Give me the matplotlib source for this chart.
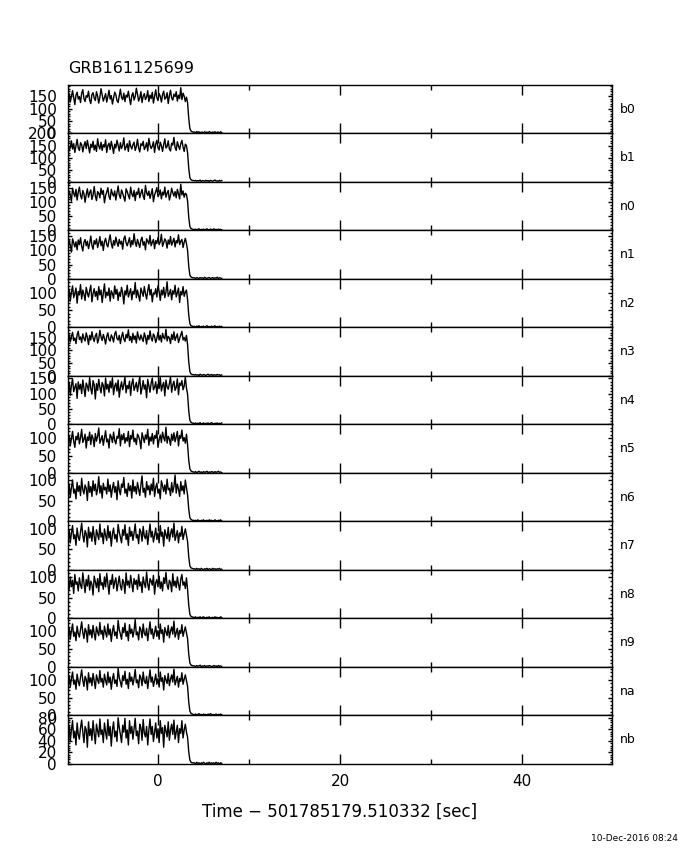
import numpy as np
import matplotlib
matplotlib.use('Agg')
import matplotlib.pyplot as plt
from matplotlib.ticker import MultipleLocator

# light curve bins: start time and bin width (sec, relative to trigger)
t_start = -9.85
bin_width = 0.125

detectors = ['b0', 'b1', 'n0', 'n1', 'n2', 'n3', 'n4', 'n5',
             'n6', 'n7', 'n8', 'n9', 'na', 'nb']
y_top = [196, 200, 172, 168, 140, 190, 158, 140, 118, 118, 118, 133, 135, 84]
y_step = [50, 50, 50, 50, 50, 50, 50, 50, 50, 50, 50, 50, 50, 20]

# counts per bin (pre-burst plateau, drop, tail)
b0 = [135,161,127,151,173,145,117,155,167,139,149,125,163,177,141,129,153,147,171,135,
      121,157,165,143,133,169,151,123,147,181,155,131,145,161,127,149,175,139,153,119,
      143,167,157,133,125,151,179,145,137,163,129,155,147,171,141,117,153,165,135,149,
      183,159,131,143,169,125,151,161,137,147,173,129,155,141,167,123,149,177,145,133,
      161,151,127,157,171,139,145,165,121,153,175,143,135,159,149,169,131,155,141,185,
      137,163,151,129,147,
      124,61,20,10,7,6,
      6,3,8,4,7,2,6,5,3,7,4,6,2,8,5,3,6,4,7,3,5,6,2,7,4]
b1 = [152,128,144,170,136,158,122,148,176,140,130,162,154,124,150,166,138,172,146,120,
      156,142,168,132,152,126,178,148,136,164,130,154,144,174,122,150,160,134,168,146,
      118,156,140,172,152,128,162,138,150,182,132,144,158,126,170,148,136,154,164,130,
      146,176,140,124,158,150,168,134,144,162,128,180,152,138,148,166,122,156,172,142,
      132,164,150,126,154,178,140,146,170,136,128,160,152,184,142,130,166,148,134,158,
      172,144,126,156,150,
      120,57,18,9,7,6,
      5,7,3,6,4,8,2,6,5,3,7,4,6,2,7,5,3,6,8,4,5,3,7,4,6]
n0 = [114,140,126,104,150,132,120,146,108,136,154,124,112,142,130,100,128,148,118,134,
      144,110,126,156,122,106,138,132,116,150,128,142,98,124,136,152,120,110,146,130,
      122,140,108,134,158,126,114,144,132,118,104,148,138,124,112,154,130,120,142,106,
      136,128,150,116,132,146,122,110,160,134,124,140,114,130,148,102,126,138,152,120,
      128,144,112,136,126,154,118,132,142,108,124,150,134,122,138,116,146,130,112,164,
      126,140,118,132,128,
      104,47,14,7,5,4,
      3,5,2,4,6,2,4,3,5,2,4,6,3,2,5,4,2,6,3,4,2,5,3,4,2]
n1 = [107,133,117,93,139,125,111,129,101,135,119,143,113,97,127,137,115,131,105,123,
      149,117,103,133,121,139,109,125,147,115,131,99,129,141,119,111,135,153,123,107,
      133,117,145,127,113,137,121,131,103,139,149,125,115,129,143,111,133,119,157,127,
      113,137,123,109,135,145,117,129,101,139,131,121,151,115,127,137,105,133,123,143,
      119,129,155,113,125,139,131,107,135,121,147,117,129,141,111,133,125,153,119,131,
      137,109,127,141,123,
      99,44,13,7,5,4,
      4,2,5,3,2,5,3,4,2,6,3,2,4,5,2,3,5,2,4,3,6,2,4,3,2]
n2 = [92,110,76,102,120,86,98,114,70,104,94,124,82,108,96,78,116,100,88,106,
      122,74,98,112,90,104,80,118,94,108,72,100,126,86,102,92,114,76,106,98,
      84,120,96,110,78,102,90,116,100,68,106,94,122,88,100,112,80,104,96,130,
      86,108,92,76,114,102,90,118,98,82,106,124,94,110,74,100,96,112,88,120,
      104,78,108,94,116,86,102,132,90,98,110,80,106,96,122,88,100,114,72,104,
      94,118,90,102,108,
      80,36,11,5,4,3,
      3,1,4,2,5,1,3,2,4,1,3,5,2,3,1,4,2,3,5,1,3,2,4,2,3]
n3 = [145,163,133,155,171,139,149,127,161,175,143,153,131,165,147,137,169,151,123,159,
      141,173,149,135,157,167,129,145,179,153,139,163,147,125,155,169,143,137,161,151,
      133,165,175,147,141,159,127,153,171,145,135,163,149,181,139,155,131,167,143,157,
      129,173,151,141,161,147,135,169,153,125,159,143,177,149,137,165,155,131,147,171,
      141,159,133,167,151,145,183,137,155,149,127,163,143,173,139,153,165,131,147,161,
      175,141,151,137,159,
      122,56,17,8,6,5,
      4,6,3,5,2,7,4,3,6,4,2,5,7,3,4,6,2,5,4,3,6,4,5,2,4]
n4 = [113,137,95,127,149,107,121,133,85,139,115,131,101,145,119,91,135,125,109,153,
      117,99,143,129,83,133,111,147,121,103,137,127,93,151,115,131,105,141,119,152,
      97,125,135,109,145,89,121,139,113,129,155,103,127,117,141,95,133,149,111,123,
      137,107,131,156,99,119,143,115,129,87,147,125,105,135,151,113,121,139,101,131,
      117,153,109,127,137,93,145,123,115,133,154,105,129,141,111,121,149,97,135,127,
      143,113,125,155,119,
      98,45,14,7,5,4,
      3,5,2,4,3,6,2,3,5,2,4,3,5,2,4,6,3,2,4,3,5,2,4,3,5]
n5 = [90,108,78,100,120,92,74,106,96,116,84,102,126,88,98,112,72,104,94,118,
      82,110,100,76,114,92,106,130,86,96,108,80,102,122,90,98,72,112,104,88,
      118,94,84,106,100,128,78,110,96,114,86,102,92,120,76,108,98,124,90,100,
      82,112,106,94,70,116,102,88,110,98,126,80,104,92,114,84,108,100,122,74,
      96,110,88,118,102,92,132,86,106,98,80,112,94,116,90,104,120,78,108,100,
      124,92,102,86,112,
      81,37,12,6,4,3,
      2,4,1,3,5,2,3,1,4,2,3,5,1,3,2,4,3,1,4,2,3,5,2,3,1]
n6 = [75,91,59,83,101,69,79,55,95,73,87,63,105,77,67,89,81,51,97,71,
      85,61,99,75,91,65,79,109,69,87,57,93,77,83,67,103,73,89,59,81,
      95,71,85,53,99,77,65,91,83,107,69,79,61,93,75,87,57,101,73,85,
      67,95,79,63,89,111,71,81,59,97,77,87,65,91,75,105,61,83,93,69,
      79,55,99,87,73,89,67,103,77,81,63,95,71,85,113,69,91,79,61,97,
      75,87,67,101,83,
      64,30,9,5,3,3,
      2,3,1,4,2,1,3,2,4,1,2,3,1,4,2,3,1,2,4,2,1,3,2,4,1]
n7 = [82,98,66,90,108,76,86,60,102,80,72,94,114,84,68,96,88,56,104,78,
      92,70,106,82,62,98,86,74,112,80,90,64,100,84,72,108,78,94,58,88,
      102,76,86,68,111,92,80,66,98,84,110,74,88,60,104,82,94,72,90,112,
      78,86,64,100,92,70,106,82,76,96,62,88,112,80,94,68,84,102,74,90,
      66,108,82,92,58,98,86,76,104,70,88,100,80,114,72,84,96,66,90,82,
      106,74,88,100,84,
      69,32,10,5,4,3,
      3,1,4,2,3,1,4,2,1,3,2,4,1,3,2,1,4,2,3,1,3,2,4,1,2]
n8 = [85,71,101,77,93,61,107,83,89,67,99,81,73,111,87,63,95,79,105,69,
      91,83,57,103,89,75,97,65,109,81,87,71,101,77,110,85,59,93,83,107,
      73,89,99,67,85,103,79,69,95,87,61,111,81,91,75,105,85,65,97,83,
      93,71,107,79,89,63,101,85,75,113,83,69,97,91,81,105,59,87,95,77,
      103,73,89,67,99,85,112,81,71,93,87,65,109,79,91,75,101,83,69,95,
      107,81,89,73,99,
      70,32,10,5,4,3,
      2,4,1,3,2,4,1,3,4,2,1,3,2,4,1,2,3,1,4,2,3,1,2,4,2]
n9 = [90,108,76,100,118,84,96,72,112,92,82,104,124,94,78,106,98,68,116,88,
      102,80,114,92,74,110,96,86,122,90,100,76,112,94,82,118,88,104,70,98,
      114,86,96,78,128,102,90,76,108,94,120,84,98,72,116,92,104,82,100,130,
      88,96,74,110,102,80,118,92,86,106,72,98,124,90,104,78,94,112,84,100,
      76,118,92,102,68,108,96,86,114,80,98,110,90,126,82,94,106,76,100,92,
      116,84,98,110,94,
      77,35,11,5,4,3,
      3,1,4,2,3,5,1,3,2,4,1,3,2,4,3,1,2,4,2,3,1,4,2,3,1]
na = [93,111,79,103,121,87,99,73,115,95,83,107,127,97,81,109,101,71,119,91,
      105,83,117,95,75,113,99,89,125,93,103,79,115,97,85,121,91,107,73,101,
      117,89,99,81,131,105,93,79,111,97,123,87,101,75,119,95,107,85,103,128,
      91,99,77,113,105,83,121,95,89,109,75,101,127,93,107,81,97,115,87,103,
      79,121,95,105,71,111,99,89,117,83,101,113,93,129,85,97,109,79,103,95,
      119,87,101,113,97,
      81,37,12,6,4,3,
      2,4,1,3,5,2,3,1,4,2,3,1,4,2,5,3,1,3,2,4,1,3,2,4,2]
nb = [53,67,39,59,75,45,57,33,71,51,43,63,76,55,37,65,59,29,73,49,
      61,41,75,53,35,69,57,47,78,51,59,37,71,55,43,77,49,65,31,59,
      73,47,57,39,80,63,51,37,67,55,79,45,59,33,75,53,65,43,61,79,
      49,57,35,69,63,41,77,53,47,65,33,59,78,51,65,39,55,71,45,61,
      37,75,53,63,29,67,57,47,73,41,59,69,51,76,43,55,67,37,61,53,
      75,45,59,69,55,
      46,21,7,3,2,2,
      2,0,3,1,2,0,2,1,3,1,0,2,1,3,0,2,1,2,0,3,1,2,0,2,1]

series = [b0, b1, n0, n1, n2, n3, n4, n5, n6, n7, n8, n9, na, nb]

fig = plt.figure(figsize=(6.8, 8.5), dpi=100)
left, right, bottom, top = 0.1, 0.9, 0.1012, 0.9
h = (top - bottom) / len(detectors)

for i, name in enumerate(detectors):
    ax = fig.add_axes([left, top - (i + 1) * h, right - left, h])
    counts = np.array(series[i])
    t = t_start + bin_width * np.arange(len(counts))
    ax.plot(t, counts, color='k', lw=1.0)
    ax.set_xlim(-9.85, 49.85)
    ax.set_ylim(0, y_top[i])
    ax.yaxis.set_major_locator(MultipleLocator(y_step[i]))
    ax.yaxis.set_minor_locator(MultipleLocator(y_step[i] / 5))
    ax.xaxis.set_major_locator(MultipleLocator(20))
    ax.xaxis.set_minor_locator(MultipleLocator(10))
    ax.tick_params(axis='both', which='both', direction='in', top=True, right=True,
                   width=1, labelsize=11)
    ax.tick_params(axis='x', which='major', length=7)
    ax.tick_params(axis='x', which='minor', length=3.5)
    ax.tick_params(axis='y', which='major', length=3, pad=8)
    ax.tick_params(axis='y', which='minor', length=1.6)
    for s in ax.spines.values():
        s.set_linewidth(1)
    if i < len(detectors) - 1:
        ax.tick_params(axis='x', labelbottom=False)
    else:
        ax.tick_params(axis='x', pad=7)
    ax.text(1.015, 0.5, name, transform=ax.transAxes, va='center', ha='left', fontsize=9)

fig.text(0.1, 0.919, 'GRB161125699', fontsize=11.5, va='center', ha='left')
fig.text(0.5, 0.045, 'Time \u2212 501785179.510332 [sec]', fontsize=12, ha='center', va='center')
fig.text(0.997, 0.014, '10-Dec-2016 08:24', fontsize=6.5, ha='right', va='center')

fig.savefig('out.png', dpi=100)
